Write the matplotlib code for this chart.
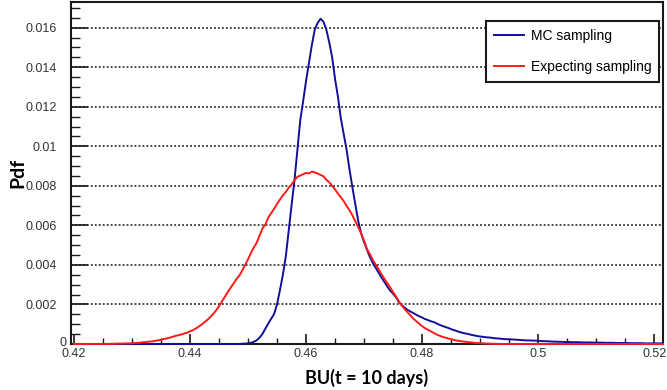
import numpy as np
import matplotlib
matplotlib.use("Agg")
import matplotlib.pyplot as plt
from matplotlib.ticker import MultipleLocator, FixedLocator, FuncFormatter


# histogram binning of burnup at t = 10 days
BIN_START = 0.42
BIN_WIDTH = 0.0005

# pdf per bin, MC sampling
mc_pdf = [
    0, 0, 0, 0, 0, 0, 0, 0, 0, 0,
    0, 0, 0, 0, 0, 0, 0, 0, 0, 0,
    0, 0, 0, 0, 0, 0, 0, 0, 0, 0,
    0, 0, 0, 0, 0, 0, 0, 0, 0, 0,
    0, 0, 0, 0, 0, 0, 0, 0, 0, 0,
    0, 0, 0, 0, 0, 0, 0, 0, 0.00001, 0.00002,
    0.00003, 0.00006, 0.00011, 0.00019, 0.00032, 0.00052, 0.00078, 0.00104, 0.00128, 0.00152,
    0.00200, 0.00272, 0.00348, 0.00440, 0.00572, 0.00700, 0.00826, 0.00980, 0.01130, 0.01228,
    0.01330, 0.01420, 0.01512, 0.01590, 0.01624, 0.01645, 0.01630, 0.01590, 0.01525, 0.01450,
    0.01340, 0.01250, 0.01140, 0.01060, 0.00980, 0.00880, 0.00790, 0.00705, 0.00620, 0.00560,
    0.00515, 0.00478, 0.00440, 0.00410, 0.00385, 0.00360, 0.00336, 0.00314, 0.00290, 0.00270,
    0.00254, 0.00236, 0.00212, 0.00196, 0.00184, 0.00172, 0.00164, 0.00156, 0.00148, 0.00140,
    0.00134, 0.00126, 0.00121, 0.00115, 0.00111, 0.00104, 0.00097, 0.00091, 0.00086, 0.00081,
    0.00075, 0.00070, 0.00065, 0.00060, 0.00056, 0.00053, 0.00050, 0.00046, 0.00043, 0.00040,
    0.00038, 0.00036, 0.00034, 0.00033, 0.00031, 0.00029, 0.00028, 0.00027, 0.00025, 0.00024,
    0.00024, 0.00023, 0.00022, 0.00021, 0.00020, 0.00019, 0.00018, 0.00018, 0.00017, 0.00017,
    0.00016, 0.00015, 0.00014, 0.00014, 0.00013, 0.00012, 0.00012, 0.00011, 0.00011, 0.00010,
    0.00010, 0.00010, 0.00009, 0.00009, 0.00009, 0.00008, 0.00008, 0.00008, 0.00008, 0.00007,
    0.00007, 0.00007, 0.00007, 0.00006, 0.00006, 0.00006, 0.00006, 0.00005, 0.00005, 0.00005,
    0.00005, 0.00005, 0.00004, 0.00004, 0.00004, 0.00004, 0.00004, 0.00003, 0.00003, 0.00003,
    0.00003, 0.00003, 0.00003, 0.00003,
]

# pdf per bin, expectation sampling
expect_pdf = [
    0, 0, 0, 0, 0, 0, 0, 0, 0, 0,
    0, 0, 0, 0.00001, 0.00001, 0.00002, 0.00002, 0.00002, 0.00003, 0.00003,
    0.00004, 0.00005, 0.00006, 0.00007, 0.00009, 0.00010, 0.00012, 0.00013, 0.00016, 0.00018,
    0.00021, 0.00025, 0.00028, 0.00032, 0.00036, 0.00041, 0.00044, 0.00048, 0.00053, 0.00057,
    0.00064, 0.00070, 0.00078, 0.00088, 0.00098, 0.00110, 0.00122, 0.00136, 0.00152, 0.00170,
    0.00191, 0.00214, 0.00238, 0.00262, 0.00284, 0.00305, 0.00328, 0.00345, 0.00372, 0.00398,
    0.00428, 0.00460, 0.00488, 0.00512, 0.00548, 0.00585, 0.00604, 0.00640, 0.00662, 0.00684,
    0.00708, 0.00730, 0.00752, 0.00768, 0.00790, 0.00806, 0.00828, 0.00845, 0.00852, 0.00858,
    0.00866, 0.00862, 0.00872, 0.00868, 0.00862, 0.00855, 0.00848, 0.00830, 0.00818, 0.00800,
    0.00782, 0.00760, 0.00742, 0.00722, 0.00698, 0.00676, 0.00650, 0.00620, 0.00590, 0.00558,
    0.00522, 0.00480, 0.00455, 0.00425, 0.00402, 0.00378, 0.00352, 0.00330, 0.00308, 0.00286,
    0.00262, 0.00240, 0.00215, 0.00194, 0.00176, 0.00160, 0.00144, 0.00128, 0.00115, 0.00102,
    0.00090, 0.00080, 0.00072, 0.00064, 0.00056, 0.00048, 0.00042, 0.00036, 0.00032, 0.00028,
    0.00024, 0.00020, 0.00017, 0.00015, 0.00013, 0.00011, 0.00009, 0.00008, 0.00006, 0.00005,
    0.00004, 0.00003, 0.00002, 0.00002, 0.00001, 0.00001, 0, 0, 0, 0,
    0, 0, 0, 0, 0, 0, 0, 0, 0, 0,
    0, 0, 0, 0, 0, 0, 0, 0, 0, 0,
    0, 0, 0, 0, 0, 0, 0, 0, 0, 0,
    0, 0, 0, 0, 0, 0, 0, 0, 0, 0,
    0, 0, 0, 0, 0, 0, 0, 0, 0, 0,
    0, 0, 0, 0,
]

x_ticks = [0.42, 0.44, 0.46, 0.48, 0.50, 0.52]
y_ticks = [0, 0.002, 0.004, 0.006, 0.008, 0.010, 0.012, 0.014, 0.016]

MC_COLOR = "#10109a"
EXPECT_COLOR = "#ff1a1a"
AXIS_COLOR = "#1a1a1a"
LABEL_COLOR = "#333333"
NARROW = ["Liberation Sans Narrow", "Liberation Sans"]


def main():
    plt.rcParams["font.family"] = ["Liberation Sans", "DejaVu Sans"]

    fig = plt.figure(figsize=(6.67, 3.9), dpi=100)
    ax = fig.add_axes([0.1064, 0.118, 0.8876, 0.877])

    bu = BIN_START + BIN_WIDTH * np.arange(len(mc_pdf))
    # empty bins sit on the x axis, so let them draw over it
    ax.plot(bu, mc_pdf, color=MC_COLOR, lw=1.4, label="MC sampling", zorder=3,
            clip_on=False)
    ax.plot(bu, expect_pdf, color=EXPECT_COLOR, lw=1.4,
            label="Expecting sampling", zorder=4, clip_on=False)

    ax.set_xlim(0.4195, 0.5215)
    ax.set_ylim(0, 0.0173)

    ax.xaxis.set_major_locator(FixedLocator(x_ticks))
    ax.xaxis.set_minor_locator(MultipleLocator(0.005))
    ax.yaxis.set_major_locator(FixedLocator(y_ticks))
    ax.yaxis.set_minor_locator(MultipleLocator(0.0005))
    ax.xaxis.set_major_formatter(FuncFormatter(lambda v, p: "%g" % round(v, 4)))
    # the zero label is placed by hand below
    ax.yaxis.set_major_formatter(
        FuncFormatter(lambda v, p: "" if abs(v) < 1e-9 else "%g" % round(v, 4)))

    ax.tick_params(axis="x", which="major", direction="in", length=7, width=1.2,
                   pad=3, labelsize=9, labelcolor=LABEL_COLOR, color=AXIS_COLOR)
    ax.tick_params(axis="x", which="minor", direction="in", length=4, width=1.0,
                   color=AXIS_COLOR)
    ax.tick_params(axis="y", which="major", direction="in", length=12, width=1.2,
                   pad=10, labelsize=9, labelcolor=LABEL_COLOR, color=AXIS_COLOR)
    ax.tick_params(axis="y", which="minor", direction="in", length=6.5, width=1.0,
                   color=AXIS_COLOR)
    for lab in ax.get_yticklabels():
        lab.set_family(NARROW)
    ax.annotate("0", xy=(-0.007, 0), xycoords=ax.get_yaxis_transform(),
                xytext=(0, -1.2), textcoords="offset points", ha="right", va="baseline",
                fontsize=9, color=LABEL_COLOR, family=NARROW)

    ax.yaxis.grid(True, which="major", linestyle=(0, (1.2, 1.4)), color="#111111", lw=1.1)
    ax.set_axisbelow(True)

    for side in ["left", "bottom", "top", "right"]:
        ax.spines[side].set_linewidth(1.5)
        ax.spines[side].set_color(AXIS_COLOR)

    ax.set_xlabel("BU(t = 10 days)", fontsize=13, fontweight="bold", family="Lato")
    ax.set_ylabel("Pdf", fontsize=14, fontweight="bold", family="Lato")
    ax.xaxis.set_label_coords(0.5, -0.072)
    ax.yaxis.set_label_coords(-0.076, 0.5)

    leg = ax.legend(loc="upper right", bbox_to_anchor=(0.993, 0.944), fontsize=10,
                    handlelength=2.2, handletextpad=0.45, labelspacing=1.25,
                    borderpad=0.55, borderaxespad=0, fancybox=False, framealpha=1)
    leg.get_frame().set_edgecolor(AXIS_COLOR)
    leg.get_frame().set_linewidth(1.5)

    fig.savefig("out.png", dpi=100)
    plt.close(fig)


if __name__ == "__main__":
    main()
